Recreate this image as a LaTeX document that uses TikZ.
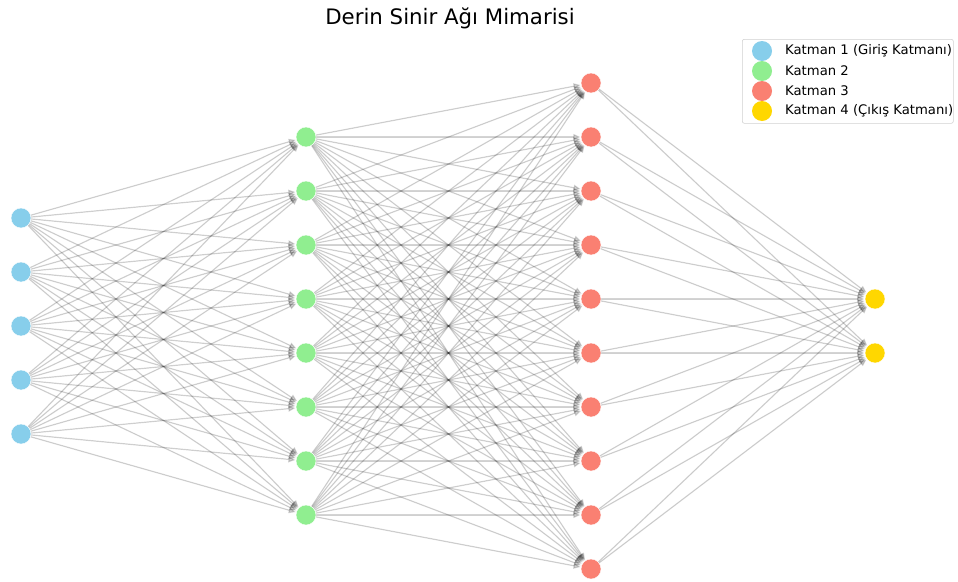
\documentclass[tikz,border=0pt]{standalone}
\usepackage{fontspec}
\setmainfont{DejaVu Sans}
\usetikzlibrary{arrows.meta}
\definecolor{skyblue}{HTML}{87CEEB}
\definecolor{lightgreen}{HTML}{90EE90}
\definecolor{salmon}{HTML}{FA8072}
\definecolor{goldc}{HTML}{FFD700}
\pgfdeclarelayer{edges}
\pgfsetlayers{edges,main}
\begin{document}
\begin{tikzpicture}[x=1pt,y=-1pt,
  neuron/.style={circle, minimum size=20pt, inner sep=0pt, draw=white, line width=0.4pt},
  link/.style={draw=black, fill=black, opacity=0.17, line width=1.2pt,
    -{Triangle[length=7pt,width=6pt]}, shorten >=0.5pt},
  legdot/.style={circle, minimum size=20pt, inner sep=0pt},
  legtext/.style={anchor=west, inner sep=0pt, font=\fontsize{13.2}{15}\selectfont}]
\useasboundingbox (0,0) rectangle (958,581);

% neurons of the four layers, centred on y = 326
\foreach \n/\cnt/\x/\col in {a/5/21/skyblue, b/8/306/lightgreen, c/10/591/salmon, d/2/875/goldc}{
  \foreach \i in {1,...,\cnt}{
    \node[neuron, fill=\col] (\n\i) at (\x, {326+(\i-(\cnt+1)/2)*54}) {};
  }
}

% fully connected links between consecutive layers
\begin{pgfonlayer}{edges}
\foreach \i in {1,...,5}{\foreach \j in {1,...,8}{\draw[link] (a\i) -- (b\j);}}
\foreach \i in {1,...,8}{\foreach \j in {1,...,10}{\draw[link] (b\i) -- (c\j);}}
\foreach \i in {1,...,10}{\foreach \j in {1,...,2}{\draw[link] (c\i) -- (d\j);}}
\end{pgfonlayer}

% title
\node (title) at (450,18) {\fontsize{21.3}{24}\selectfont Derin Sinir Ağı Mimarisi};

% legend
\node[draw=black!18, line width=0.6pt, rounded corners=2pt, fill=white, anchor=north west,
  minimum width=211pt, minimum height=84pt, inner sep=0pt] (legend) at (742,39) {};
\node[legdot, fill=skyblue] (k1) at (762,51) {};
\node[legdot, fill=lightgreen] (k2) at (762,71) {};
\node[legdot, fill=salmon] (k3) at (762,91) {};
\node[legdot, fill=goldc] (k4) at (762,111) {};
\node[legtext] (l1) at (785,51) {Katman 1 (Giriş Katmanı)};
\node[legtext] (l2) at (785,71) {Katman 2};
\node[legtext] (l3) at (785,91) {Katman 3};
\node[legtext] (l4) at (785,111) {Katman 4 (Çıkış Katmanı)};
\end{tikzpicture}
\end{document}
